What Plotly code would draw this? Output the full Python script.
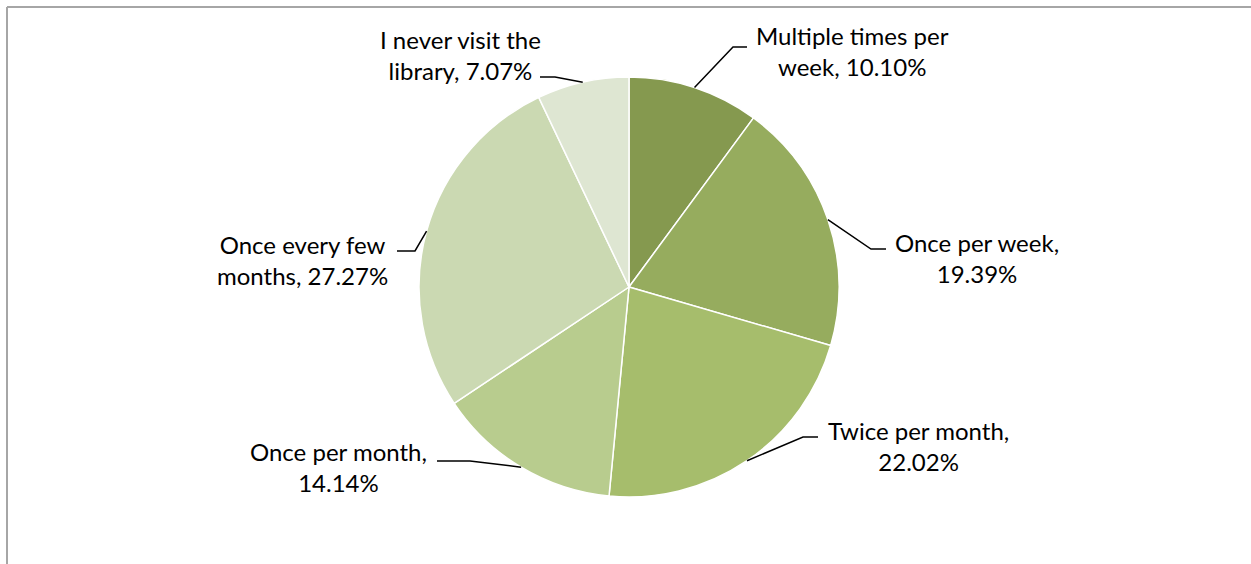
import math
import plotly.graph_objects as go

# ---- data ----
categories = [
    "Multiple times per week",
    "Once per week",
    "Twice per month",
    "Once per month",
    "Once every few months",
    "I never visit the library",
]
percent_values = [10.10, 19.39, 22.02, 14.14, 27.27, 7.07]
label_texts = [
    "Multiple times per<br>week, 10.10%",
    "Once per week,<br>19.39%",
    "Twice per month,<br>22.02%",
    "Once per month,<br>14.14%",
    "Once every few<br>months, 27.27%",
    "I never visit the<br>library, 7.07%",
]
slice_colors = ["#85994F", "#96AC5E", "#A6BD6C", "#B8CC8E", "#CBD9B2", "#DEE6D2"]

# ---- layout geometry (pixels) ----
W, H = 1251, 564
CX, CY, R = 629, 287, 210
label_centers = [(852, 51), (977, 258), (918, 446), (338, 467), (302, 260), (460, 55)]
leader_elbows = [((733, 47), (747, 47)), ((871, 249), (886, 249)), ((803, 437), (818, 437)),
                 ((470, 461), (437, 461)), ((415, 251), (397, 251)), ((555, 77), (540, 77))]
FONT = "Lato, 'Open Sans', sans-serif"


def px(x):
    return x / W


def py(y):
    return 1 - y / H


fig = go.Figure(go.Pie(
    labels=categories,
    values=percent_values,
    sort=False,
    direction="clockwise",
    rotation=0,
    marker=dict(colors=slice_colors, line=dict(color="white", width=1.5)),
    textinfo="none",
    hoverinfo="label+percent",
    showlegend=False,
    domain=dict(x=[px(CX - R), px(CX + R)], y=[py(CY + R), py(CY - R)]),
))

shapes = []
# chart border (top and left)
shapes.append(dict(type="line", xref="paper", yref="paper", x0=px(7), x1=1, y0=py(7), y1=py(7),
                   line=dict(color="#a6a6a6", width=2)))
shapes.append(dict(type="line", xref="paper", yref="paper", x0=px(7), x1=px(7), y0=py(7), y1=0,
                   line=dict(color="#a6a6a6", width=2)))

total = sum(percent_values)
cum = 0.0
annotations = []
for v, txt, (lx, ly), (elb, end) in zip(percent_values, label_texts, label_centers, leader_elbows):
    mid = (cum + v / 2) / total * 2 * math.pi
    cum += v
    sx = CX + R * math.sin(mid)
    sy = CY - R * math.cos(mid)
    path = f"M {px(sx)} {py(sy)} L {px(elb[0])} {py(elb[1])} L {px(end[0])} {py(end[1])}"
    shapes.append(dict(type="path", xref="paper", yref="paper", path=path,
                       line=dict(color="black", width=1.5)))
    annotations.append(dict(x=px(lx), y=py(ly), xref="paper", yref="paper", text=txt,
                            showarrow=False, xanchor="center", yanchor="middle", align="center",
                            font=dict(family=FONT, size=24, color="black")))

fig.update_layout(
    width=W, height=H,
    margin=dict(l=0, r=0, t=0, b=0),
    paper_bgcolor="white",
    plot_bgcolor="white",
    shapes=shapes,
    annotations=annotations,
)

fig.write_html("out.html", config={"displayModeBar": False},
               post_script="document.body.style.margin='0';")
